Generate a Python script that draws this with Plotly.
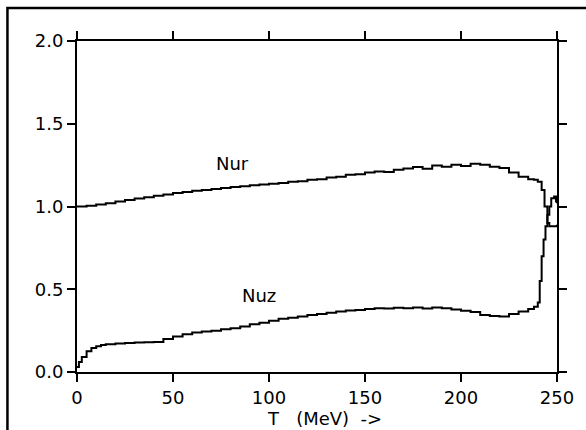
import plotly.graph_objects as go

# Temperature grid (MeV) and the two curves
T_nur = [0, 5, 10, 15, 20, 25, 30, 35, 40, 45, 50, 55, 60, 65, 70, 75, 80, 85, 90, 95,
         100, 105, 110, 115, 120, 125, 130, 135, 140, 145, 150, 155, 160, 165, 170, 175,
         180, 185, 190, 195, 200, 205, 210, 215, 220, 225, 230, 235, 238, 240, 242,
         243.5, 245, 246, 248, 250]
nur = [1.000, 1.005, 1.012, 1.020, 1.030, 1.040, 1.048, 1.056, 1.065, 1.072, 1.082,
       1.088, 1.095, 1.100, 1.106, 1.112, 1.118, 1.122, 1.128, 1.133, 1.138, 1.142,
       1.150, 1.152, 1.162, 1.165, 1.175, 1.180, 1.192, 1.195, 1.205, 1.212, 1.208,
       1.222, 1.230, 1.238, 1.228, 1.248, 1.240, 1.252, 1.245, 1.258, 1.252, 1.240,
       1.232, 1.205, 1.180, 1.165, 1.162, 1.150, 1.100, 1.000, 0.900, 0.880, 0.880,
       0.890]

T_nuz = [0, 1, 2.5, 5, 7.5, 10, 12.5, 15, 20, 25, 30, 35, 40, 45, 50, 55, 60, 65, 70,
         75, 80, 85, 90, 95, 100, 105, 110, 115, 120, 125, 130, 135, 140, 145, 150, 155,
         160, 165, 170, 175, 180, 185, 190, 195, 200, 205, 210, 215, 220, 225, 230, 235,
         238, 240, 241, 242, 243, 244, 245, 246, 247, 248.5, 249.5, 250]
nuz = [0.030, 0.060, 0.090, 0.125, 0.145, 0.155, 0.163, 0.168, 0.172, 0.175, 0.178,
       0.180, 0.182, 0.200, 0.215, 0.228, 0.238, 0.245, 0.250, 0.258, 0.265, 0.275,
       0.288, 0.298, 0.310, 0.322, 0.328, 0.335, 0.345, 0.350, 0.358, 0.365, 0.372,
       0.375, 0.380, 0.385, 0.383, 0.388, 0.385, 0.390, 0.384, 0.390, 0.385, 0.378,
       0.370, 0.362, 0.345, 0.338, 0.335, 0.350, 0.365, 0.380, 0.395, 0.420, 0.550,
       0.700, 0.800, 0.880, 0.950, 1.000, 1.050, 1.060, 1.030, 1.020]

x_ticks = [0, 50, 100, 150, 200, 250]
y_ticks = [0.0, 0.5, 1.0, 1.5, 2.0]
y_tick_text = ["0.0", "0.5", "1.0", "1.5", "2.0"]

FONT = "DejaVu Sans"
W, H = 586, 430
L, R, TOP, B = 77, 26, 41, 58
pw, ph = W - L - R, H - TOP - B

def px_x(p):
    return (p - L) / pw

def px_y(p):
    return (H - B - p) / ph

fig = go.Figure()
fig.add_trace(go.Scatter(x=T_nur, y=nur, mode="lines", line=dict(color="black", width=2),
                         line_shape="hv", showlegend=False))
fig.add_trace(go.Scatter(x=T_nuz, y=nuz, mode="lines", line=dict(color="black", width=2),
                         line_shape="hv", showlegend=False))

axis_common = dict(showgrid=False, zeroline=False, showline=True, linecolor="black",
                   linewidth=2, mirror="ticks", ticks="outside", ticklen=8, tickwidth=2,
                   tickcolor="black", tickfont=dict(family=FONT, size=18, color="black"))

fig.update_xaxes(range=[0, 250], tickvals=x_ticks, ticktext=[str(v) for v in x_ticks],
                 **axis_common)
fig.update_yaxes(range=[0, 2], tickvals=y_ticks, ticktext=y_tick_text, **axis_common)

fig.add_annotation(x=81, y=1.262, text="Nur", showarrow=False,
                   font=dict(family=FONT, size=18, color="black"))
fig.add_annotation(x=95, y=0.464, text="Nuz", showarrow=False,
                   font=dict(family=FONT, size=18, color="black"))
fig.add_annotation(xref="paper", yref="paper", x=px_x(326), y=px_y(418),
                   text="T\u00a0\u00a0\u00a0(MeV)\u00a0\u00a0->", showarrow=False,
                   xanchor="center", yanchor="middle",
                   font=dict(family=FONT, size=18, color="black"))

# outer frame around the whole graphic
fig.add_shape(type="rect", xref="paper", yref="paper",
              x0=px_x(7), x1=px_x(600), y0=px_y(445), y1=px_y(8),
              line=dict(color="black", width=2.5), layer="below")

fig.update_layout(width=W, height=H, margin=dict(l=L, r=R, t=TOP, b=B),
                  paper_bgcolor="white", plot_bgcolor="white")

fig.write_html("out.html")
